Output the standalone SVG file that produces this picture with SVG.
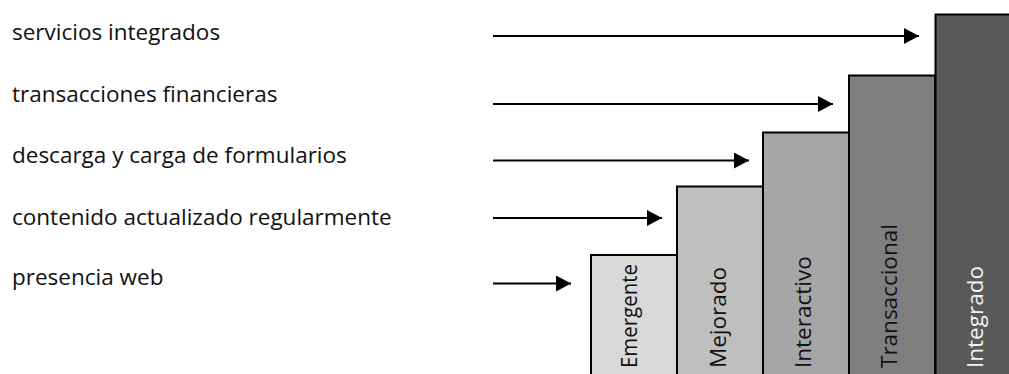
<svg xmlns="http://www.w3.org/2000/svg" width="1009" height="374" viewBox="0 0 1009 374">
<defs>
<marker id="ah" markerWidth="15" markerHeight="16" refX="15" refY="8" orient="auto" markerUnits="userSpaceOnUse">
<path d="M0,0 L15,8 L0,16 Z" fill="#000"/>
</marker>
<style>
.lbl{font-family:"Open Sans","Liberation Sans",sans-serif;font-size:22.5px;fill:#111}
.bar{stroke:#000;stroke-width:2}
.vt{font-family:"Open Sans","Noto Sans",sans-serif;font-size:22.5px;fill:#111}
.arr{stroke:#000;stroke-width:1.8;fill:none;marker-end:url(#ah)}
</style>
</defs>
<rect width="1009" height="374" fill="#fff"/>
<g id="labels">
<text class="lbl" x="12" y="40">servicios integrados</text>
<text class="lbl" x="12" y="102">transacciones financieras</text>
<text class="lbl" x="12" y="163">descarga y carga de formularios</text>
<text class="lbl" x="12" y="225">contenido actualizado regularmente</text>
<text class="lbl" x="12" y="285">presencia web</text>
</g>
<g id="connectors">
<line class="arr" x1="493" y1="36" x2="919" y2="36"/>
<line class="arr" x1="493" y1="104" x2="833" y2="104"/>
<line class="arr" x1="493" y1="160.5" x2="749" y2="160.5"/>
<line class="arr" x1="493" y1="218" x2="662" y2="218"/>
<line class="arr" x1="493" y1="283.5" x2="571" y2="283.5"/>
</g>
<g id="emergente">
<rect class="bar" x="591" y="255" width="86" height="130" fill="#d9d9d9"/>
<text class="vt" transform="translate(637,368) rotate(-90)" textLength="104" lengthAdjust="spacingAndGlyphs">Emergente</text>
</g>
<g id="mejorado">
<rect class="bar" x="677" y="186.5" width="86" height="200" fill="#bfbfbf"/>
<text class="vt" transform="translate(726,368) rotate(-90)">Mejorado</text>
</g>
<g id="interactivo">
<rect class="bar" x="763" y="132.5" width="86" height="250" fill="#a6a6a6"/>
<text class="vt" transform="translate(811,368) rotate(-90)">Interactivo</text>
</g>
<g id="transaccional">
<rect class="bar" x="849" y="75.5" width="86" height="310" fill="#7f7f7f"/>
<text class="vt" transform="translate(897,368) rotate(-90)">Transaccional</text>
</g>
<g id="integrado">
<rect class="bar" x="935.5" y="14.5" width="90" height="370" fill="#595959"/>
<text class="vt" transform="translate(983,368) rotate(-90)" style="fill:#f2f2f2">Integrado</text>
</g>
</svg>
